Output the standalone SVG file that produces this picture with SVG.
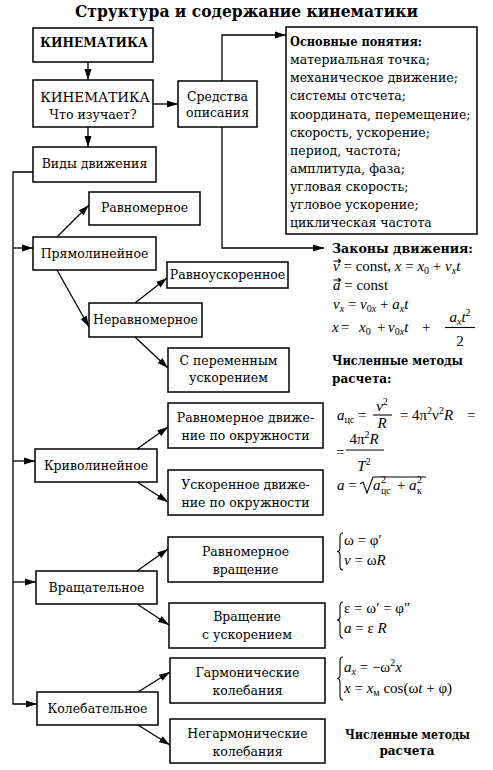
<svg xmlns="http://www.w3.org/2000/svg" width="493" height="770" viewBox="0 0 493 770">
<style>
.t{font-family:"DejaVu Serif","Liberation Serif",serif;font-size:12.5px;fill:#000}
.c{text-anchor:middle}
.b{font-weight:bold}
.m{font-family:"Liberation Serif",serif;font-size:15px;fill:#000}
.i{font-style:italic}
.s{font-size:10px}
.box{fill:#fff;stroke:#000;stroke-width:1.5}
.ln{fill:none;stroke:#000;stroke-width:1.3}
.br{fill:none;stroke:#000;stroke-width:1.1}
</style>
<defs>
<marker id="ar" markerUnits="userSpaceOnUse" markerWidth="12" markerHeight="8" refX="11" refY="4" orient="auto">
<path d="M0,0.5 L11,4 L0,7.5 z" fill="#000"/>
</marker>
</defs>
<rect width="493" height="770" fill="#fff"/>
<text x="246.5" y="17" class="t c b" style="font-size:16px" textLength="343" lengthAdjust="spacingAndGlyphs">Структура и содержание кинематики</text>

<g id="connectors" class="ln">
<line x1="88" y1="62" x2="88" y2="80" marker-end="url(#ar)"/>
<line x1="153" y1="104" x2="178" y2="104" marker-end="url(#ar)"/>
<polyline points="222,81 222,35 286,35" marker-end="url(#ar)"/>
<polyline points="222,127 222,248 324,248" marker-end="url(#ar)"/>
<line x1="88" y1="127" x2="88" y2="147" marker-end="url(#ar)"/>
<polyline points="33,172 13,172 13,704 37,704" marker-end="url(#ar)"/>
<line x1="13" y1="248" x2="33" y2="248" marker-end="url(#ar)"/>
<line x1="13" y1="461" x2="35" y2="461" marker-end="url(#ar)"/>
<line x1="13" y1="582" x2="36" y2="582" marker-end="url(#ar)"/>
<line x1="57" y1="237" x2="89" y2="205" marker-end="url(#ar)"/>
<line x1="57" y1="270" x2="89" y2="327" marker-end="url(#ar)"/>
<line x1="135" y1="303" x2="167" y2="278" marker-end="url(#ar)"/>
<line x1="135" y1="337" x2="168" y2="368" marker-end="url(#ar)"/>
<line x1="137" y1="449" x2="168" y2="427" marker-end="url(#ar)"/>
<line x1="137" y1="482" x2="168" y2="502" marker-end="url(#ar)"/>
<line x1="137" y1="571" x2="168" y2="549" marker-end="url(#ar)"/>
<line x1="137" y1="604" x2="169" y2="625" marker-end="url(#ar)"/>
<line x1="138" y1="692" x2="170" y2="672" marker-end="url(#ar)"/>
<line x1="138" y1="725" x2="170" y2="745" marker-end="url(#ar)"/>
</g>

<g id="kinematika"><rect class="box" x="33" y="28" width="120" height="34"/><text x="94" y="47" class="t c b" style="font-size:13px" textLength="108" lengthAdjust="spacingAndGlyphs">КИНЕМАТИКА</text></g>
<g id="kinematika-what"><rect class="box" x="33" y="80" width="120" height="47"/><text x="95" y="102" class="t c" style="font-size:13.5px">КИНЕМАТИКА</text><text x="93" y="119" class="t c">Что изучает?</text></g>
<g id="sredstva"><rect class="box" x="178" y="81" width="79" height="46"/><text x="217.5" y="101" class="t c">Средства</text><text x="217.5" y="117" class="t c">описания</text></g>
<g id="osnovnye"><rect class="box" x="286" y="27" width="191" height="207"/>
<text class="t b" x="290" y="46" style="font-size:12px" textLength="132" lengthAdjust="spacingAndGlyphs">Основные понятия:</text>
<text class="t" x="290" y="64">материальная точка;
<tspan x="290" y="82">механическое движение;</tspan>
<tspan x="290" y="100">системы отсчета;</tspan>
<tspan x="290" y="118.5">координата, перемещение;</tspan>
<tspan x="290" y="136.5">скорость, ускорение;</tspan>
<tspan x="290" y="154.5">период, частота;</tspan>
<tspan x="290" y="172.5">амплитуда, фаза;</tspan>
<tspan x="290" y="190.5">угловая скорость;</tspan>
<tspan x="290" y="208.5">угловое ускорение;</tspan>
<tspan x="290" y="227">циклическая частота</tspan></text></g>
<g id="vidy"><rect class="box" x="33" y="147" width="123" height="35"/><text x="94.5" y="168" class="t c">Виды движения</text></g>
<g id="pryam"><rect class="box" x="33" y="237" width="123" height="33"/><text x="94.5" y="258" class="t c">Прямолинейное</text></g>
<g id="ravnomernoe"><rect class="box" x="89" y="192" width="111" height="33"/><text x="144.5" y="212" class="t c">Равномерное</text></g>
<g id="ravnousk"><rect class="box" x="167" y="262" width="121" height="26"/><text x="227.5" y="279" class="t c">Равноускоренное</text></g>
<g id="neravn"><rect class="box" x="89" y="303" width="113" height="34"/><text x="145.5" y="324" class="t c">Неравномерное</text></g>
<g id="peremen"><rect class="box" x="168" y="348" width="121" height="44"/><text x="228.5" y="365" class="t c">С переменным</text><text x="228.5" y="382" class="t c">ускорением</text></g>
<g id="krivo"><rect class="box" x="35" y="449" width="122" height="33"/><text x="96" y="470" class="t c">Криволинейное</text></g>
<g id="rdo"><rect class="box" x="168" y="403" width="155" height="45"/><text x="245.5" y="422" class="t c">Равномерное движе-</text><text x="245.5" y="440" class="t c">ние по окружности</text></g>
<g id="udo"><rect class="box" x="168" y="470" width="155" height="45"/><text x="245.5" y="489" class="t c">Ускоренное движе-</text><text x="245.5" y="507" class="t c">ние по окружности</text></g>
<g id="vrasch"><rect class="box" x="36" y="571" width="121" height="33"/><text x="96.5" y="592" class="t c">Вращательное</text></g>
<g id="rvr"><rect class="box" x="168" y="537" width="155" height="45"/><text x="245.5" y="556" class="t c">Равномерное</text><text x="245.5" y="574" class="t c">вращение</text></g>
<g id="vsu"><rect class="box" x="169" y="603" width="156" height="45"/><text x="247" y="621" class="t c">Вращение</text><text x="247" y="639" class="t c">с ускорением</text></g>
<g id="kol"><rect class="box" x="37" y="692" width="121" height="33"/><text x="97.5" y="713" class="t c">Колебательное</text></g>
<g id="garm"><rect class="box" x="170" y="658" width="155" height="45"/><text x="247.5" y="677" class="t c">Гармонические</text><text x="247.5" y="695" class="t c">колебания</text></g>
<g id="negarm"><rect class="box" x="170" y="719" width="155" height="44"/><text x="247.5" y="738" class="t c">Негармонические</text><text x="247.5" y="756" class="t c">колебания</text></g>

<g id="zakony">
<text x="332" y="253" class="t b" style="font-size:12px" textLength="141" lengthAdjust="spacingAndGlyphs">Законы движения:</text>
<text x="333" y="271" class="m"><tspan class="i">v</tspan> = const, <tspan class="i">x</tspan> = <tspan class="i">x</tspan><tspan dy="3" class="s">0</tspan><tspan dy="-3"> + </tspan><tspan class="i">v</tspan><tspan dy="3" class="s i">x</tspan><tspan dy="-3" class="i">t</tspan></text>
<path class="br" d="M333.5,261 h7 m-2,-2 l2,2 l-2,2"/>
<text x="333" y="290" class="m"><tspan class="i">a</tspan> = const</text>
<path class="br" d="M333.5,280 h7 m-2,-2 l2,2 l-2,2"/>
<text x="333" y="309" class="m"><tspan class="i">v</tspan><tspan dy="3" class="s i">x</tspan><tspan dy="-3"> = </tspan><tspan class="i">v</tspan><tspan dy="3" class="s">0<tspan class="i">x</tspan></tspan><tspan dy="-3"> + </tspan><tspan class="i">a</tspan><tspan dy="3" class="s i">x</tspan><tspan dy="-3" class="i">t</tspan></text>
<text x="332" y="332" class="m i">x</text>
<text x="341" y="332" class="m">=</text>
<text x="359" y="332" class="m"><tspan class="i">x</tspan><tspan dy="3" class="s">0</tspan></text>
<text x="377" y="332" class="m">+</text>
<text x="388" y="332" class="m"><tspan class="i">v</tspan><tspan dy="3" class="s">0<tspan class="i">x</tspan></tspan><tspan dy="-3" class="i">t</tspan></text>
<text x="422" y="332" class="m">+</text>
<text x="460" y="322" class="m c"><tspan class="i">a</tspan><tspan dy="3" class="s i">x</tspan><tspan dy="-3" class="i">t</tspan><tspan dy="-6" class="s">2</tspan></text>
<line class="br" x1="445" y1="327.5" x2="475" y2="327.5"/>
<text x="460" y="346" class="m c">2</text>
<text x="332" y="365" class="t b" style="font-size:12px" textLength="131" lengthAdjust="spacingAndGlyphs">Численные методы</text>
<text x="332" y="383" class="t b" style="font-size:12px">расчета:</text>
</g>

<g id="centripetal">
<text x="337" y="420" class="m"><tspan class="i">a</tspan><tspan dy="3" class="s">цс</tspan><tspan dy="-3"> =</tspan></text>
<text x="382" y="411" class="m c"><tspan class="i">v</tspan><tspan dy="-6" class="s">2</tspan></text>
<line class="br" x1="373" y1="415" x2="392" y2="415"/>
<text x="382" y="428" class="m c i">R</text>
<text x="400" y="420" class="m">=</text>
<text x="412" y="420" class="m">4π<tspan dy="-6" class="s">2</tspan><tspan dy="6">ν</tspan><tspan dy="-6" class="s">2</tspan><tspan dy="6" class="i">R</tspan></text>
<text x="467" y="420" class="m">=</text>
<text x="336" y="457" class="m">=</text>
<text x="364" y="444" class="m c">4π<tspan dy="-6" class="s">2</tspan><tspan dy="6" class="i">R</tspan></text>
<line class="br" x1="346" y1="450" x2="384" y2="450"/>
<text x="364" y="471" class="m c"><tspan class="i">T</tspan><tspan dy="-6" class="s">2</tspan></text>
<text x="337" y="490" class="m"><tspan class="i">a</tspan> = </text>
<path class="br" d="M360,484 l3,-2 l4,11 l6,-16 h53"/>
<text x="373" y="490" class="m i">a</text>
<text x="381" y="483" class="m s">2</text>
<text x="381" y="494" class="m s">цс</text>
<text x="397" y="490" class="m">+</text>
<text x="409" y="490" class="m i">a</text>
<text x="417" y="483" class="m s">2</text>
<text x="417" y="494" class="m s">к</text>
</g>

<g id="rot1">
<path class="br" d="M343,533 Q340,533 340,537 L340,548 Q340,551.5 337,551.5 Q340,551.5 340,555 L340,566 Q340,570 343,570"/>
<text x="344" y="545" class="m">ω = φ′</text>
<text x="344" y="565" class="m"><tspan class="i">v</tspan> = ω<tspan class="i">R</tspan></text>
</g>
<g id="rot2">
<path class="br" d="M343,602 Q340,602 340,606 L340,617 Q340,620 337,620 Q340,620 340,623 L340,634 Q340,638 343,638"/>
<text x="344" y="613" class="m">ε = ω′ = φ″</text>
<text x="344" y="633" class="m"><tspan class="i">a</tspan> = ε <tspan class="i">R</tspan></text>
</g>
<g id="osc">
<path class="br" d="M343,657 Q340,657 340,661 L340,675 Q340,678.5 337,678.5 Q340,678.5 340,682 L340,696 Q340,700 343,700"/>
<text x="344" y="672" class="m"><tspan class="i">a</tspan><tspan dy="3" class="s i">x</tspan><tspan dy="-3"> = −ω</tspan><tspan dy="-6" class="s">2</tspan><tspan dy="6" class="i">x</tspan></text>
<text x="344" y="693" class="m"><tspan class="i">x</tspan> = <tspan class="i">x</tspan><tspan dy="3" class="s">м</tspan><tspan dy="-3"> cos(ω</tspan><tspan class="i">t</tspan> + φ)</text>
</g>
<g id="numeric2">
<text x="407.5" y="739" class="t c b" style="font-size:12px" textLength="125" lengthAdjust="spacingAndGlyphs">Численные методы</text>
<text x="407" y="755" class="t c b" style="font-size:12px">расчета</text>
</g>
</svg>
